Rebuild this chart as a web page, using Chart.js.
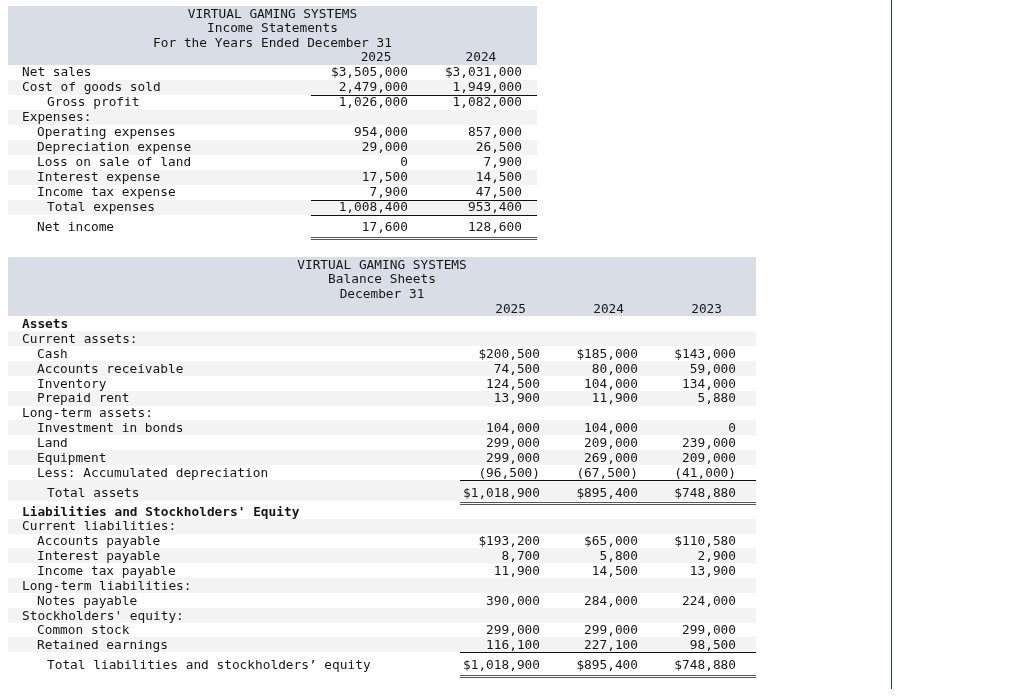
<!DOCTYPE html>
<html>
<head>
<meta charset="utf-8">
<script src="https://cdn.jsdelivr.net/npm/chart.js@4.4.1/dist/chart.umd.min.js"></script>
<style>
    body { margin: 0; background: #fff; }
    canvas { position: absolute; }
    #income { left: 8px; top: 6px; }
    #balance { left: 8px; top: 257px; }
    #rule { position: absolute; left: 891px; top: 0; width: 1px; height: 689px; background: #213f73; }
</style>
</head>
<body>
<canvas id="income" width="529" height="240"></canvas>
<canvas id="balance" width="748" height="425"></canvas>
<div id="rule"></div>
<script>
var company = 'VIRTUAL GAMING SYSTEMS';

// Income statement
var incomeYears = ['2025', '2024'];
var incomeRows = ['Net sales', 'Cost of goods sold', 'Gross profit', 'Expenses:', 'Operating expenses',
    'Depreciation expense', 'Loss on sale of land', 'Interest expense', 'Income tax expense',
    'Total expenses', 'Net income'];
var incomeLevel = [0, 0, 2, 0, 1, 1, 1, 1, 1, 2, 1];
var income2025 = [3505000, 2479000, 1026000, null, 954000, 29000, 0, 17500, 7900, 1008400, 17600];
var income2024 = [3031000, 1949000, 1082000, null, 857000, 26500, 7900, 14500, 47500, 953400, 128600];
var incomeDollar = ['Net sales'];
var incomeSingle = ['Cost of goods sold', 'Income tax expense', 'Total expenses'];
var incomeDouble = ['Net income'];

// Balance sheet
var balanceYears = ['2025', '2024', '2023'];
var balanceRows = ['Assets', 'Current assets:', 'Cash', 'Accounts receivable', 'Inventory', 'Prepaid rent',
    'Long-term assets:', 'Investment in bonds', 'Land', 'Equipment', 'Less: Accumulated depreciation',
    'Total assets', "Liabilities and Stockholders' Equity", 'Current liabilities:', 'Accounts payable',
    'Interest payable', 'Income tax payable', 'Long-term liabilities:', 'Notes payable',
    "Stockholders' equity:", 'Common stock', 'Retained earnings', 'Total liabilities and stockholders\u2019 equity'];
var balanceLevel = [0, 0, 1, 1, 1, 1, 0, 1, 1, 1, 1, 2, 0, 0, 1, 1, 1, 0, 1, 0, 1, 1, 2];
var balance2025 = [null, null, 200500, 74500, 124500, 13900, null, 104000, 299000, 299000, -96500,
    1018900, null, null, 193200, 8700, 11900, null, 390000, null, 299000, 116100, 1018900];
var balance2024 = [null, null, 185000, 80000, 104000, 11900, null, 104000, 209000, 269000, -67500,
    895400, null, null, 65000, 5800, 14500, null, 284000, null, 299000, 227100, 895400];
var balance2023 = [null, null, 143000, 59000, 134000, 5880, null, 0, 239000, 209000, -41000,
    748880, null, null, 110580, 2900, 13900, null, 224000, null, 299000, 98500, 748880];
var balanceBold = ['Assets', "Liabilities and Stockholders' Equity"];
var balanceDollar = ['Cash', 'Total assets', 'Accounts payable', 'Total liabilities and stockholders\u2019 equity'];
var balanceSingle = ['Less: Accumulated depreciation', 'Retained earnings'];
var balanceDouble = ['Total assets', 'Total liabilities and stockholders\u2019 equity'];

var mono = '"DejaVu Sans Mono", monospace';
var ink = '#161616';
var headerFill = '#d9dee6';
var stripe = '#f3f3f3';
var indents = [14, 29, 39];

function money(n, dollar) {
    var s = Math.abs(n).toLocaleString('en-US');
    if (dollar) s = '$' + s;
    return n < 0 ? '(' + s + ')' : s;
}

function rowPositions(rows, doubles) {
    var pos = [], v = 0;
    rows.forEach(function (r, i) {
        v += 1;
        if (doubles.indexOf(r) >= 0) v += 0.34;
        if (i > 0 && doubles.indexOf(rows[i - 1]) >= 0) v += 0.28;
        pos.push(v);
    });
    return pos;
}

function makeTable(id, t) {
    var pos = rowPositions(t.rows, t.doubles);
    var isDouble = function (i) { return t.doubles.indexOf(t.rows[i]) >= 0; };
    var rowTop = function (i) { return isDouble(i) ? pos[i - 1] + 0.5 : pos[i] - 0.5; };
    var rowBottom = function (i) { return pos[i] + (isDouble(i) ? 0.6 : 0.5); };

    var datasets = t.series.map(function (vals, j) {
        var pts = [];
        vals.forEach(function (v, i) {
            if (v !== null) pts.push({ x: j, y: pos[i], v: v, dollar: t.dollar.indexOf(t.rows[i]) >= 0 });
        });
        return { label: t.years[j], data: pts, pointRadius: 0, showLine: false };
    });

    var tablePlugin = {
        id: 'tableDraw',
        beforeDraw: function (chart) {
            var c = chart.ctx, y = chart.scales.y, x = chart.scales.x;
            c.save();
            c.fillStyle = headerFill;
            c.fillRect(0, 0, chart.width, Math.round(y.getPixelForValue(0.5)));
            pos.forEach(function (v, i) {
                if (i % 2 === 1) {
                    var top = Math.round(y.getPixelForValue(rowTop(i)));
                    var bot = Math.round(y.getPixelForValue(rowBottom(i)));
                    c.fillStyle = stripe;
                    c.fillRect(0, top, chart.width, bot - top);
                }
            });
            var x0 = Math.round(x.getPixelForValue(t.lineStart));
            c.lineWidth = 1;
            t.rows.forEach(function (r, i) {
                var yy = Math.round(y.getPixelForValue(rowBottom(i))) + 0.5;
                if (t.single.indexOf(r) >= 0) {
                    c.strokeStyle = '#111';
                    c.beginPath(); c.moveTo(x0, yy); c.lineTo(chart.width, yy); c.stroke();
                }
                if (isDouble(i)) {
                    c.strokeStyle = '#555';
                    c.beginPath(); c.moveTo(x0, yy + 1); c.lineTo(chart.width, yy + 1);
                    c.moveTo(x0, yy + 3); c.lineTo(chart.width, yy + 3); c.stroke();
                }
            });
            c.restore();
        },
        afterDatasetsDraw: function (chart) {
            var c = chart.ctx, y = chart.scales.y, x = chart.scales.x;
            var dy = 1; // glyph optical centre
            c.save();
            c.fillStyle = ink;
            c.textBaseline = 'middle';
            c.font = '12.8px ' + mono;
            c.textAlign = 'center';
            t.years.forEach(function (yr, j) {
                c.fillText(yr, x.getPixelForValue(j + t.yearShift[j]), y.getPixelForValue(0) + dy);
            });
            c.textAlign = 'left';
            t.rows.forEach(function (r, i) {
                c.font = (t.bold.indexOf(r) >= 0 ? 'bold ' : '') + '12.8px ' + mono;
                c.fillText(r, indents[t.level[i]], y.getPixelForValue(pos[i]) + dy);
            });
            c.font = '12.8px ' + mono;
            c.textAlign = 'right';
            chart.data.datasets.forEach(function (ds, j) {
                var meta = chart.getDatasetMeta(j);
                meta.data.forEach(function (pt, k) {
                    var d = ds.data[k];
                    c.fillText(money(d.v, d.dollar), pt.x, pt.y + dy);
                });
            });
            c.restore();
        }
    };

    return new Chart(document.getElementById(id), {
        type: 'scatter',
        data: { datasets: datasets },
        options: {
            responsive: false,
            animation: false,
            events: [],
            layout: { padding: 0 },
            plugins: {
                legend: { display: false },
                tooltip: { enabled: false },
                title: {
                    display: true,
                    text: [company, t.title, t.subtitle],
                    color: ink,
                    font: { family: mono, size: 12.8, weight: 'normal', lineHeight: 1.15 },
                    padding: { top: 1, bottom: 0 }
                }
            },
            scales: {
                x: { type: 'linear', display: false, min: t.xMin, max: t.xMax },
                y: { type: 'linear', display: false, reverse: true, min: t.yMin, max: t.yMax }
            }
        },
        plugins: [tablePlugin]
    });
}

makeTable('income', {
    title: 'Income Statements', subtitle: 'For the Years Ended December 31',
    years: incomeYears, rows: incomeRows, level: incomeLevel,
    series: [income2025, income2024],
    dollar: incomeDollar, single: incomeSingle, doubles: incomeDouble, bold: [],
    xMin: -3.509, xMax: 1.132, yMin: -0.39, yMax: 12.599,
    lineStart: -0.85, yearShift: [-0.28, -0.36]
});

makeTable('balance', {
    title: 'Balance Sheets', subtitle: 'December 31',
    years: balanceYears, rows: balanceRows, level: balanceLevel,
    series: [balance2025, balance2024, balance2023],
    dollar: balanceDollar, single: balanceSingle, doubles: balanceDouble, bold: balanceBold,
    xMin: -5.429, xMax: 2.204, yMin: -0.46, yMax: 25.117,
    lineStart: -0.816, yearShift: [-0.3, -0.3, -0.3]
});
</script>
</body>
</html>
